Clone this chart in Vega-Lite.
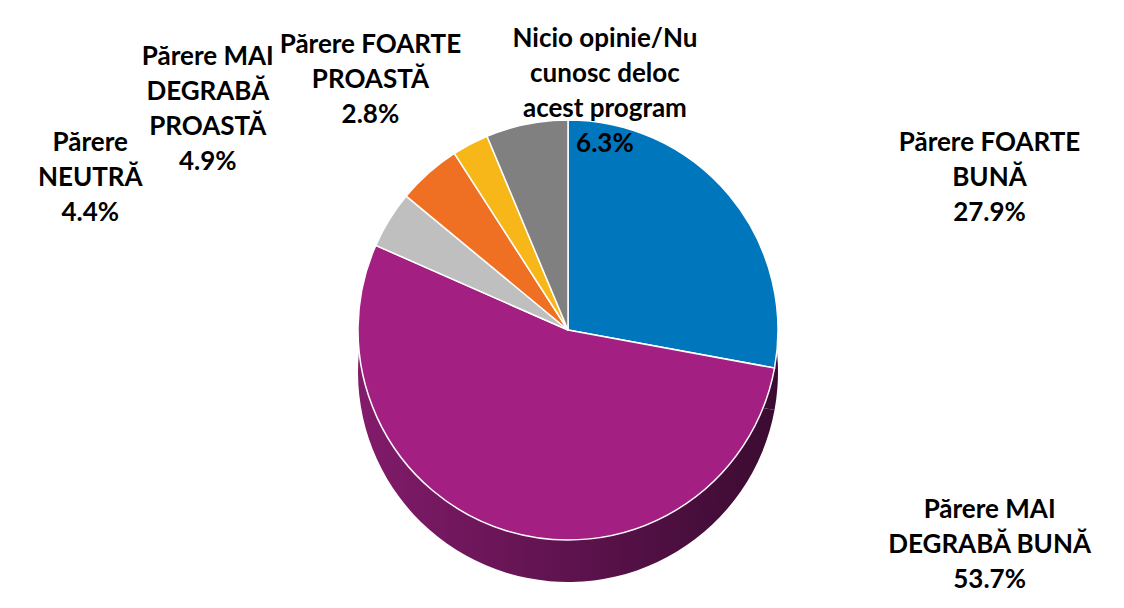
{
  "$schema": "https://vega.github.io/schema/vega-lite/v6.json",
  "width": 1118,
  "height": 594,
  "autosize": "none",
  "padding": {"left": 6, "right": 0, "top": 14, "bottom": 0},
  "background": "white",
  "config": {"view": {"stroke": "#D9D9D9", "strokeWidth": 1.5}},
  "data": {"values": [
    {"ord": 1, "cat": "Părere FOARTE BUNĂ", "label": "Părere FOARTE\nBUNĂ\n27.9%", "pct": 27.9},
    {"ord": 2, "cat": "Părere MAI DEGRABĂ BUNĂ", "label": "Părere MAI\nDEGRABĂ BUNĂ\n53.7%", "pct": 53.7},
    {"ord": 3, "cat": "Părere NEUTRĂ", "label": "Părere\nNEUTRĂ\n4.4%", "pct": 4.4},
    {"ord": 4, "cat": "Părere MAI DEGRABĂ PROASTĂ", "label": "Părere MAI\nDEGRABĂ\nPROASTĂ\n4.9%", "pct": 4.9},
    {"ord": 5, "cat": "Părere FOARTE PROASTĂ", "label": "Părere FOARTE\nPROASTĂ\n2.8%", "pct": 2.8},
    {"ord": 6, "cat": "Nicio opinie/Nu cunosc deloc acest program", "label": "Nicio opinie/Nu\ncunosc deloc\nacest program\n6.3%", "pct": 6.3}
  ]},
  "encoding": {
    "theta": {"field": "pct", "type": "quantitative", "stack": true},
    "order": {"field": "ord", "type": "ordinal"},
    "detail": {"field": "cat", "type": "nominal"}
  },
  "layer": [
    {
      "mark": {
        "type": "arc", "outerRadius": 210, "xOffset": 3, "yOffset": 61,
        "fill": {"gradient": "linear", "x1": 0, "y1": 0, "x2": 1, "y2": 0,
          "stops": [{"offset": 0, "color": "#821B6B"}, {"offset": 1, "color": "#3B0B31"}]}
      }
    },
    {
      "mark": {"type": "arc", "outerRadius": 210, "xOffset": 3, "yOffset": 19, "stroke": "white", "strokeWidth": 1.5},
      "encoding": {
        "color": {
          "field": "cat", "type": "nominal", "legend": null,
          "scale": {
            "domain": ["Părere FOARTE BUNĂ", "Părere MAI DEGRABĂ BUNĂ", "Părere NEUTRĂ", "Părere MAI DEGRABĂ PROASTĂ", "Părere FOARTE PROASTĂ", "Nicio opinie/Nu cunosc deloc acest program"],
            "range": ["#0076BC", "#A31F82", "#BFBFBF", "#EF7023", "#F7B718", "#808080"]
          }
        }
      }
    },
    {
      "mark": {"type": "text", "radius": 270, "dx": 217, "dy": 5, "font": "Lato", "fontWeight": "bold", "fontSize": 26, "lineHeight": 35, "lineBreak": "\n", "fill": "black", "align": "center", "baseline": "middle"},
      "encoding": {"text": {"condition": {"test": "datum.ord === 1", "field": "label", "type": "nominal"}, "value": ""}}
    },
    {
      "mark": {"type": "text", "radius": 270, "dx": 504, "dy": -59, "font": "Lato", "fontWeight": "bold", "fontSize": 26, "lineHeight": 35, "lineBreak": "\n", "fill": "black", "align": "center", "baseline": "middle"},
      "encoding": {"text": {"condition": {"test": "datum.ord === 2", "field": "label", "type": "nominal"}, "value": ""}}
    },
    {
      "mark": {"type": "text", "radius": 270, "dx": -245, "dy": -26, "font": "Lato", "fontWeight": "bold", "fontSize": 26, "lineHeight": 35, "lineBreak": "\n", "fill": "black", "align": "center", "baseline": "middle"},
      "encoding": {"text": {"condition": {"test": "datum.ord === 3", "field": "label", "type": "nominal"}, "value": ""}}
    },
    {
      "mark": {"type": "text", "radius": 270, "dx": -178, "dy": -52, "font": "Lato", "fontWeight": "bold", "fontSize": 26, "lineHeight": 35, "lineBreak": "\n", "fill": "black", "align": "center", "baseline": "middle"},
      "encoding": {"text": {"condition": {"test": "datum.ord === 4", "field": "label", "type": "nominal"}, "value": ""}}
    },
    {
      "mark": {"type": "text", "radius": 270, "dx": -69, "dy": -27, "font": "Lato", "fontWeight": "bold", "fontSize": 26, "lineHeight": 35, "lineBreak": "\n", "fill": "black", "align": "center", "baseline": "middle"},
      "encoding": {"text": {"condition": {"test": "datum.ord === 5", "field": "label", "type": "nominal"}, "value": ""}}
    },
    {
      "mark": {"type": "text", "radius": 270, "dx": 93, "dy": -7, "font": "Lato", "fontWeight": "bold", "fontSize": 26, "lineHeight": 35, "lineBreak": "\n", "fill": "black", "align": "center", "baseline": "middle"},
      "encoding": {"text": {"condition": {"test": "datum.ord === 6", "field": "label", "type": "nominal"}, "value": ""}}
    }
  ]
}
